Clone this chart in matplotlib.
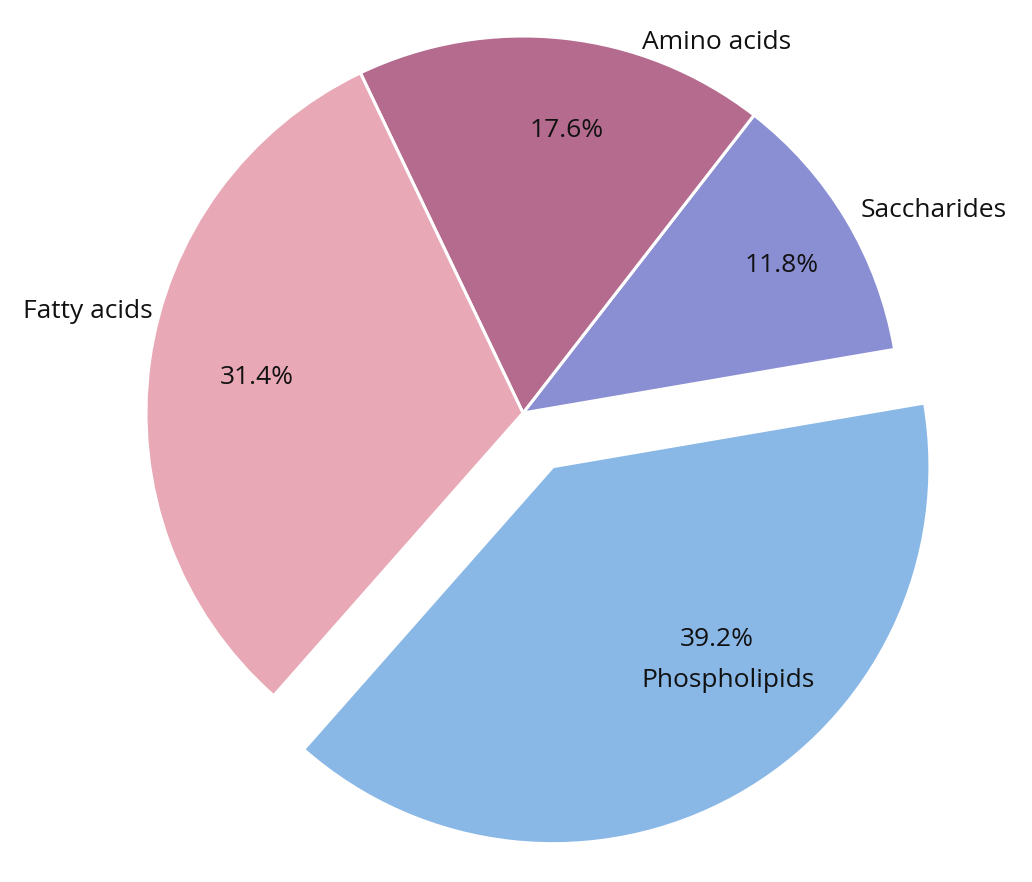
import matplotlib
matplotlib.use("Agg")
import matplotlib.pyplot as plt

labels = ["Phospholipids", "Saccharides", "Amino acids", "Fatty acids"]
values = [39.2, 11.8, 17.6, 31.4]
colors = ["#89b7e6", "#8a8ed3", "#b56b8e", "#e8a8b6"]
explode = [0.163, 0, 0, 0]

# label / percentage text anchor positions (pie units, radius = 1)
label_xy = [(0.544, -0.710), (1.089, 0.537), (0.513, 0.982), (-1.154, 0.269)]
pct_xy = [(0.513, -0.601), (0.687, 0.391), (0.117, 0.749), (-0.706, 0.094)]

plt.rcParams["font.family"] = ["Open Sans", "DejaVu Sans"]

fig = plt.figure(figsize=(10.32, 8.82), dpi=100)
ax = fig.add_axes([0, 0, 1, 1])
wedges, texts, autotexts = ax.pie(
    values, labels=labels, colors=colors, explode=explode,
    startangle=228.6, counterclock=True, autopct="%.1f%%",
    wedgeprops=dict(edgecolor="white", linewidth=2.2),
    textprops=dict(fontsize=19, color="#111111"),
)
for t, xy in zip(texts, label_xy):
    t.set_position(xy)
    t.set_ha("center")
    t.set_va("center")
for t, xy in zip(autotexts, pct_xy):
    t.set_position(xy)
    t.set_ha("center")
    t.set_va("center")

ax.set_xlim(-523 / 377, (1032 - 523) / 377)
ax.set_ylim(-(882 - 413) / 377, 413 / 377)
ax.set_aspect("auto")
ax.axis("off")
fig.savefig("out.png", dpi=100)
